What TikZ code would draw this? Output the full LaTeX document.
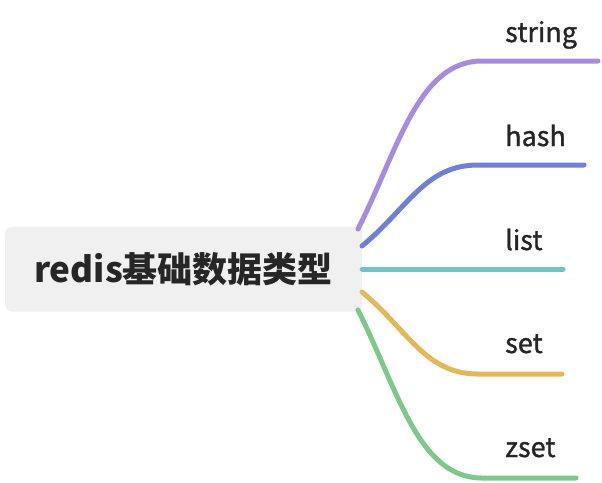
\documentclass[tikz,border=0pt]{standalone}
\usepackage{fontspec}
\setmainfont{Noto Sans CJK SC}
\newfontfamily\leaffont{Noto Sans CJK SC}[FakeBold=1.2]
\usepackage{tikz}
\definecolor{bgbox}{RGB}{239,240,239}
\definecolor{txt}{RGB}{38,38,38}
\definecolor{cstring}{RGB}{166,139,222}
\definecolor{chash}{RGB}{110,128,216}
\definecolor{clist}{RGB}{108,198,198}
\definecolor{cset}{RGB}{227,184,89}
\definecolor{czset}{RGB}{125,200,138}
\tikzset{
  rootbox/.style={fill=bgbox, rounded corners=7pt, minimum width=357pt, minimum height=85pt,
    inner sep=0pt, text=txt, font=\fontsize{35}{40}\selectfont\bfseries},
  leaf/.style={anchor=base west, inner sep=0pt, text=txt, font=\leaffont\fontsize{27}{30}\selectfont},
  branch/.style={line width=5pt, line cap=round}
}

\begin{document}
\begin{tikzpicture}[x=1pt,y=-1pt]
\useasboundingbox (0,0) rectangle (602,482);
\node [rootbox] (root) at (183.5,269) {redis基础数据类型};
% labels
\node [leaf] (string) at (505,42) {string};
\node [leaf] (hash) at (505,146) {hash};
\node [leaf] (list) at (505,250) {list};
\node [leaf] (set) at (505,353) {set};
\node [leaf] (zset) at (505,457) {zset};
% ends of the branches
\coordinate (s0) at (358,229);
\coordinate (s1) at (482,61);
\coordinate (s2) at (598,61);
\coordinate (h0) at (362,246);
\coordinate (h1) at (478,165);
\coordinate (h2) at (584,165);
\coordinate (l0) at (root.east);
\coordinate (l2) at (563,269);
\coordinate (e0) at (362,292);
\coordinate (e1) at (478,374);
\coordinate (e2) at (562,374);
\coordinate (z0) at (358,310);
\coordinate (z1) at (482,478);
\coordinate (z2) at (576,478);
% branches
\draw [branch, cstring] (s0) .. controls (398,150) and (418,61) .. (s1) -- (s2);
\draw [branch, chash] (h0) .. controls (408,208) and (425,165) .. (h1) -- (h2);
\draw [branch, clist] (l0) -- (l2);
\draw [branch, cset] (e0) .. controls (408,330) and (425,374) .. (e1) -- (e2);
\draw [branch, czset] (z0) .. controls (398,390) and (418,478) .. (z1) -- (z2);
\end{tikzpicture}
\end{document}
